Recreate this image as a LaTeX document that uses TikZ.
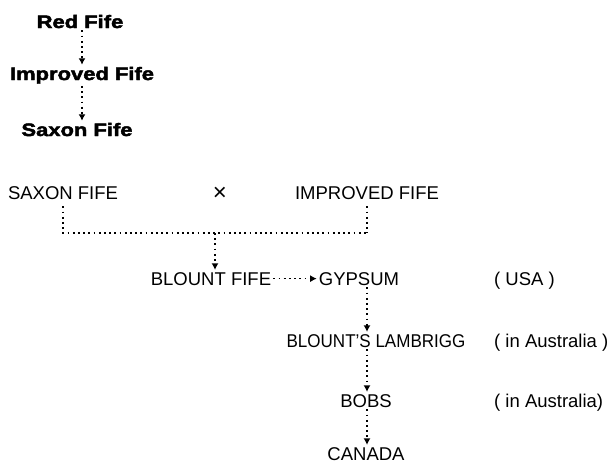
\documentclass[tikz,border=0pt]{standalone}
\usepackage{fontspec}
\setmainfont{Liberation Sans}
\newfontfamily\heavyfont[FakeBold=2.5,FakeStretch=1.22]{Liberation Sans Bold}
\usetikzlibrary{arrows.meta}
\begin{document}
\begin{tikzpicture}[x=1pt,y=-1pt,
  topname/.style={font=\heavyfont\fontsize{18}{18}\selectfont, inner sep=2pt, anchor=base},
  lbl/.style={font=\fontsize{18.5}{18.5}\selectfont, inner sep=2pt, anchor=base},
  note/.style={lbl, anchor=base west},
  dot/.style={line width=1.6pt, dash pattern=on 1.8pt off 3.4pt},
  arr/.style={dot, -{Latex[length=6.5pt,width=7pt]}}]
\useasboundingbox (0,0) rectangle (611,464);
% top chain
\node[topname] (rf) at (80,28) {Red Fife};
\node[topname] (if) at (82,80) {Improved Fife};
\node[topname] (sf) at (77,136) {Saxon Fife};
\coordinate (ax) at (82,0);
\draw[arr] (rf.south -| ax) -- (if.north -| ax);
\draw[arr] (if.south -| ax) -- (sf.north -| ax);
% cross
\node[lbl] (sx) at (63,199) {SAXON FIFE};
\node[lbl, font=\fontsize{24}{24}\selectfont] (cross) at (220,200) {×};
\node[lbl] (im) at (367,199) {IMPROVED FIFE};
\coordinate (bl) at (63,233);
\coordinate (br) at (367,233);
\coordinate (bm) at (215,233);
\draw[dot, shorten <=5pt] (sx.south) -- (bl) -- (br);
\draw[dot, shorten <=5pt] (im.south) -- (br);
\node[lbl] (bf) at (211,285) {BLOUNT FIFE};
\draw[arr] (bm) -- (bf.north -| bm);
\node[lbl] (gy) at (359,285) {GYPSUM};
\draw[arr] (bf.east) -- (gy.west);
\node[note] (usa) at (492,285) {( USA )};
\coordinate (cx) at (367,0);
\node[lbl, xscale=1] (lam) at (376,347) {\scalebox{0.92}[1]{BLOUNT'S LAMBRIGG}};
\node[note] (aus1) at (492,347) {( in Australia )};
\node[lbl] (bobs) at (366,407) {BOBS};
\node[note] (aus2) at (492,407) {( in Australia)};
\node[lbl] (ca) at (366,460) {CANADA};
\draw[arr] (gy.south -| cx) -- (lam.north -| cx);
\draw[arr] (lam.south -| cx) -- (bobs.north -| cx);
\draw[arr] (bobs.south -| cx) -- (ca.north -| cx);
\end{tikzpicture}
\end{document}
